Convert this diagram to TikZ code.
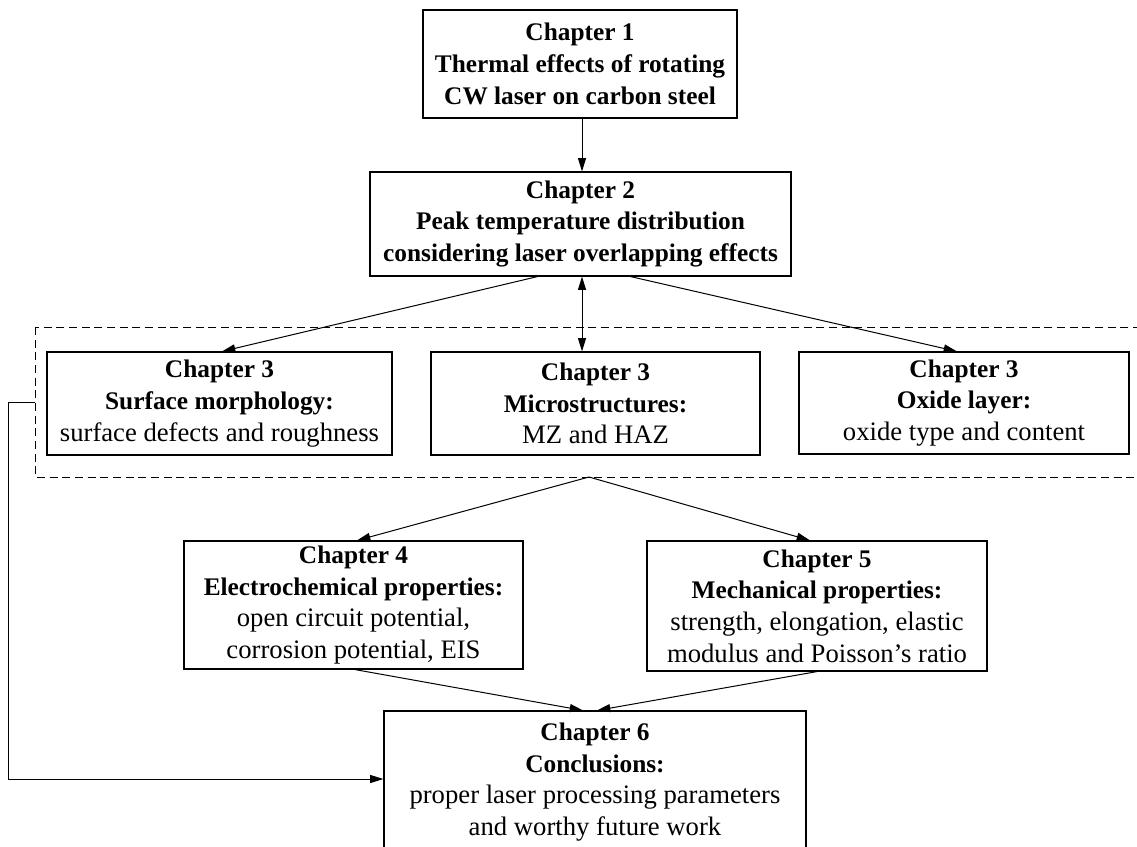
\documentclass[tikz,border=0pt]{standalone}
\usepackage{fontspec}
\setmainfont{Liberation Serif}
\usetikzlibrary{arrows.meta,calc}
\newcommand\hdl[1]{{\fontsize{19}{23.8}\selectfont\bfseries #1}}
\begin{document}
\begin{tikzpicture}[x=0.75pt,y=-0.75pt,
  chbox/.style={draw, line width=0.85pt, inner sep=0pt, align=center,
    font=\fontsize{20}{23.8}\selectfont},
  arr/.style={line width=0.75pt, -{Triangle[length=10pt,width=6pt]}},
  darr/.style={line width=0.75pt, {Triangle[length=10pt,width=6pt]}-{Triangle[length=10pt,width=6pt]}},
  dbox/.style={line width=0.75pt, dash pattern=on 6pt off 3.5pt}
]
\clip (0,0) rectangle (1137,846);
\fill[white] (0,0) rectangle (1137,846);

\node[chbox, minimum width=235.5pt, minimum height=81pt] (c1) at (580,64)
  {\hdl{Chapter 1}\\\hdl{Thermal effects of rotating}\\\hdl{CW laser on carbon steel}};
\node[chbox, minimum width=315.75pt, minimum height=78pt] (c2) at (580.5,224)
  {\hdl{Chapter 2}\\\hdl{Peak temperature distribution}\\\hdl{considering laser overlapping effects}};

\coordinate (dtl) at (35,327);
\coordinate (dbr) at (1141,477);
\draw[dbox] (dtl) rectangle (dbr);
\coordinate (dbot) at (589,477);

\node[chbox, minimum width=258.75pt, minimum height=77.25pt] (c3a) at (219.5,403.5)
  {\hdl{Chapter 3}\\\hdl{Surface morphology:}\\surface defects and roughness};
\node[chbox, minimum width=246.75pt, minimum height=77.25pt] (c3b) at (595.5,403.5)
  {\hdl{Chapter 3}\\\hdl{Microstructures:}\\MZ and HAZ};
\node[chbox, minimum width=247.5pt, minimum height=76.5pt] (c3c) at (964,403)
  {\hdl{Chapter 3}\\\hdl{Oxide layer:}\\oxide type and content};

\node[chbox, minimum width=254.25pt, minimum height=96pt] (c4) at (353.5,605)
  {\hdl{Chapter 4}\\\hdl{Electrochemical properties:}\\open circuit potential,\\corrosion potential, EIS};
\node[chbox, minimum width=255pt, minimum height=97.5pt] (c5) at (817,606)
  {\hdl{Chapter 5}\\\hdl{Mechanical properties:}\\strength, elongation, elastic\\modulus and Poisson’s ratio};
\node[chbox, minimum width=316.5pt, minimum height=106.5pt] (c6) at (595,782)
  {\hdl{Chapter 6}\\\hdl{Conclusions:}\\proper laser processing parameters\\and worthy future work};

\draw[arr] ($(c1.south)+(2,0)$) -- ($(c2.north)+(1.5,0)$);
\draw[arr] ($(c2.south)+(-43,0)$) -- ($(c3a.north)+(2.5,0)$);
\draw[arr] ($(c2.south)+(50,0)$) -- ($(c3c.north)+(-7,0)$);
\draw[darr] ($(c2.south)+(1.5,0)$) -- ($(c3b.north)+(-13.5,0)$);
\draw[arr] (dbot) -- ($(c4.north)+(3.5,0)$);
\draw[arr] (dbot) -- ($(c5.north)+(-7,0)$);
\draw[arr] ($(c4.south)+(1.5,0)$) -- ($(c6.north)+(-12,0)$);
\draw[arr] (c5.south) -- ($(c6.north)+(2,0)$);

\coordinate (fbA) at (35,402);
\coordinate (fbB) at (8,779);
\draw[arr] (fbA) -| (fbB) -- (fbB -| c6.west);
\end{tikzpicture}
\end{document}
